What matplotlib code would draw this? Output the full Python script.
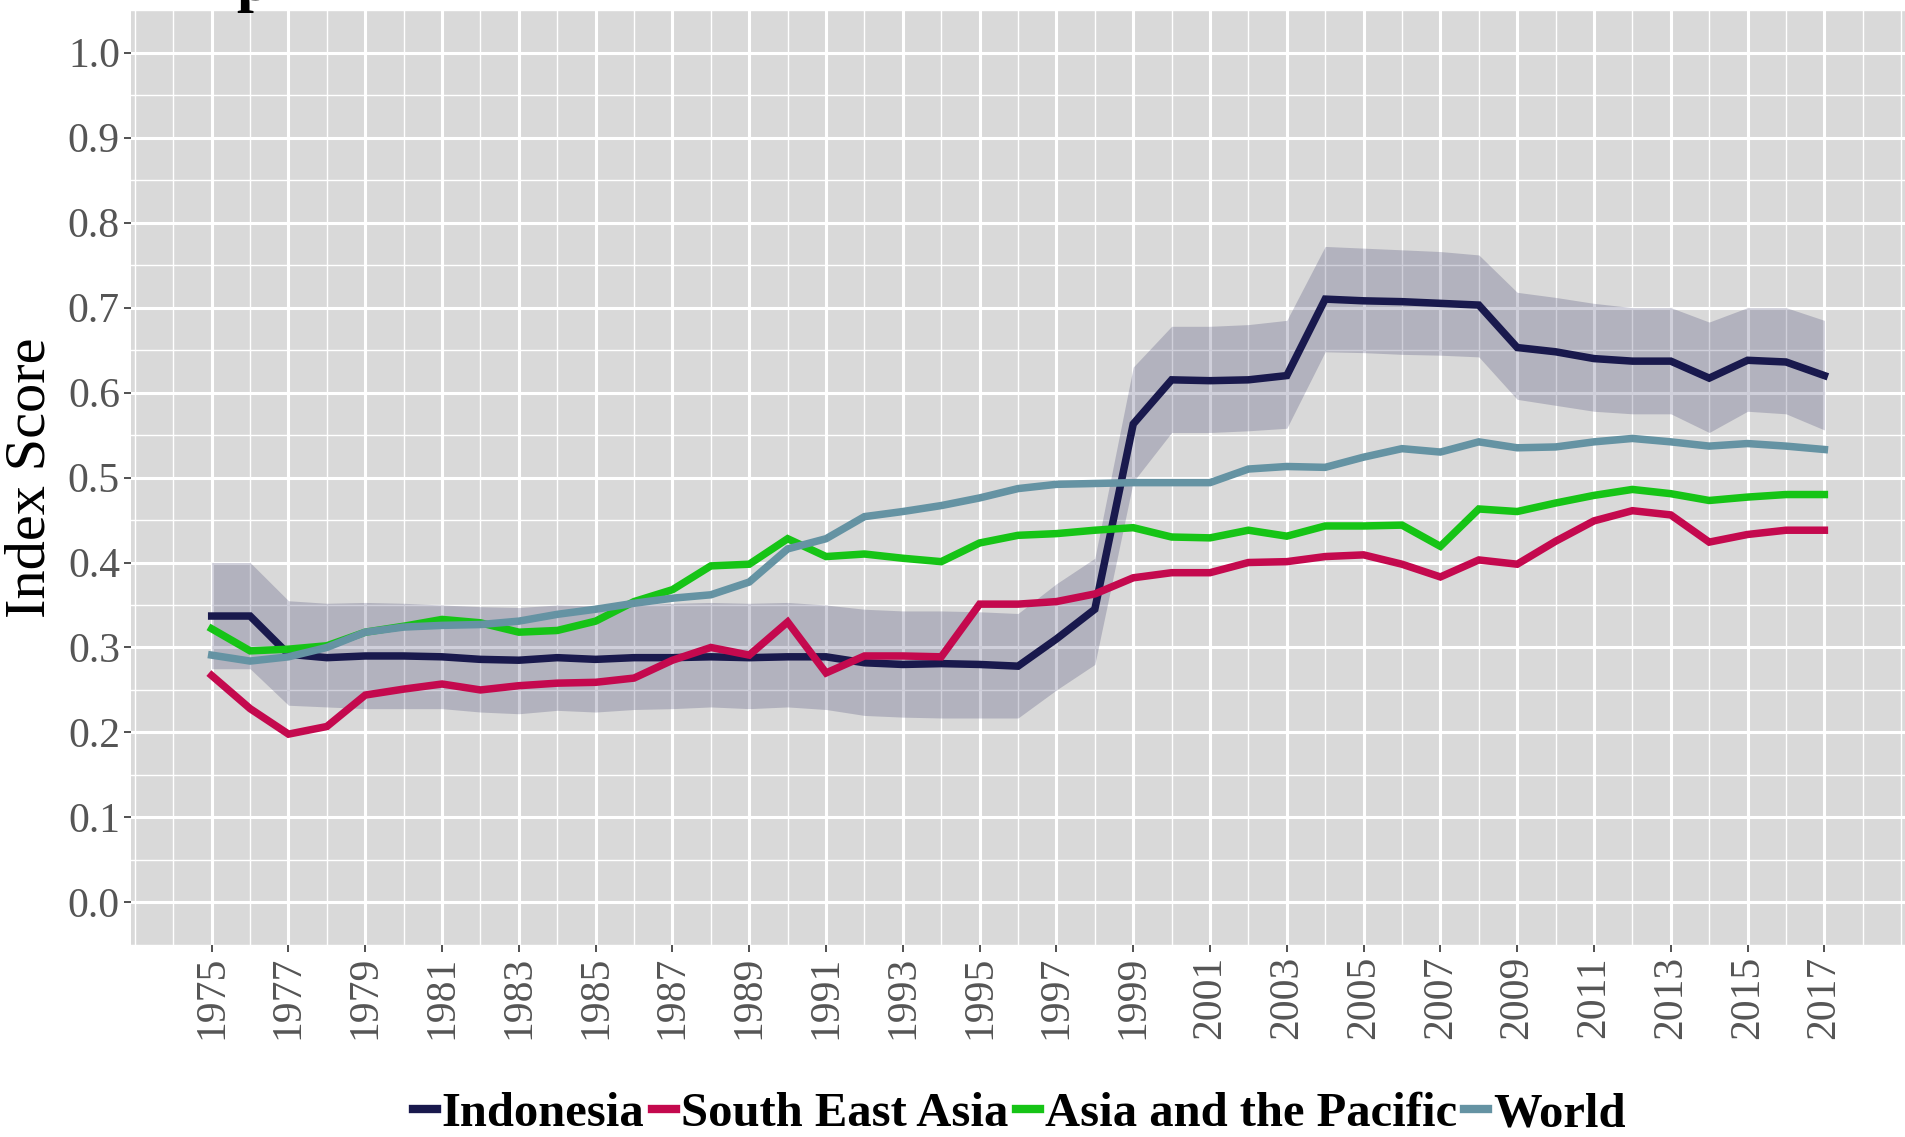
import matplotlib
matplotlib.use("Agg")
import matplotlib.pyplot as plt
from matplotlib.ticker import MultipleLocator, FixedLocator
from matplotlib.lines import Line2D

years = list(range(1975, 2018))

indonesia = [0.337, 0.337, 0.292, 0.288, 0.290, 0.290, 0.289, 0.286, 0.285, 0.288,
             0.286, 0.288, 0.288, 0.289, 0.288, 0.289, 0.289, 0.282, 0.280, 0.281,
             0.280, 0.278, 0.310, 0.345, 0.563, 0.615, 0.614, 0.615, 0.620, 0.710,
             0.708, 0.707, 0.705, 0.703, 0.653, 0.648, 0.640, 0.637, 0.637, 0.617,
             0.638, 0.636, 0.620]
indo_upper = [0.400, 0.400, 0.355, 0.352, 0.353, 0.352, 0.350, 0.348, 0.347, 0.350,
              0.349, 0.350, 0.352, 0.353, 0.352, 0.353, 0.350, 0.345, 0.343, 0.343,
              0.342, 0.340, 0.375, 0.405, 0.630, 0.678, 0.678, 0.680, 0.685, 0.772,
              0.770, 0.768, 0.766, 0.762, 0.718, 0.712, 0.705, 0.700, 0.700, 0.683,
              0.700, 0.700, 0.685]
indo_lower = [0.275, 0.275, 0.232, 0.230, 0.228, 0.228, 0.228, 0.224, 0.222, 0.226,
              0.224, 0.227, 0.228, 0.230, 0.228, 0.230, 0.227, 0.220, 0.218, 0.217,
              0.217, 0.217, 0.250, 0.280, 0.495, 0.553, 0.553, 0.555, 0.558, 0.648,
              0.647, 0.645, 0.644, 0.642, 0.592, 0.585, 0.578, 0.575, 0.575, 0.553,
              0.578, 0.575, 0.556]
south_east_asia = [0.267, 0.228, 0.198, 0.207, 0.244, 0.251, 0.257, 0.250, 0.255, 0.258,
                   0.259, 0.264, 0.285, 0.300, 0.291, 0.330, 0.270, 0.290, 0.290, 0.289,
                   0.351, 0.351, 0.354, 0.363, 0.382, 0.388, 0.388, 0.400, 0.401, 0.407,
                   0.409, 0.398, 0.383, 0.403, 0.398, 0.425, 0.449, 0.461, 0.456, 0.424,
                   0.433, 0.438, 0.438]
asia_pacific = [0.322, 0.296, 0.298, 0.302, 0.318, 0.325, 0.333, 0.329, 0.318, 0.320,
                0.331, 0.354, 0.368, 0.396, 0.398, 0.428, 0.407, 0.410, 0.405, 0.401,
                0.423, 0.432, 0.434, 0.438, 0.441, 0.430, 0.429, 0.438, 0.431, 0.443,
                0.443, 0.444, 0.419, 0.463, 0.460, 0.470, 0.479, 0.486, 0.481, 0.473,
                0.477, 0.480, 0.480]
world = [0.291, 0.284, 0.289, 0.300, 0.318, 0.324, 0.326, 0.327, 0.331, 0.339,
         0.345, 0.352, 0.358, 0.362, 0.377, 0.416, 0.428, 0.454, 0.460, 0.467,
         0.476, 0.487, 0.492, 0.493, 0.494, 0.494, 0.494, 0.510, 0.513, 0.512,
         0.524, 0.534, 0.530, 0.542, 0.535, 0.536, 0.542, 0.546, 0.542, 0.537,
         0.540, 0.537, 0.533]

series_names = ["Indonesia", "South East Asia", "Asia and the Pacific", "World"]
series_colors = ["#19194d", "#c4094e", "#16c416", "#6593a3"]
x_ticks = list(range(1975, 2018, 2))
y_ticks = [0.0, 0.1, 0.2, 0.3, 0.4, 0.5, 0.6, 0.7, 0.8, 0.9, 1.0]

serif = ["Liberation Serif", "DejaVu Serif"]

fig = plt.figure(figsize=(19.05, 11.37), dpi=100)
ax = fig.add_axes([0.0688, 0.169, 0.9312, 0.822])
ax.set_facecolor("#d9d9d9")

ax.fill_between(years, indo_lower, indo_upper, color="#2a2a5e", alpha=0.22,
                linewidth=0, zorder=2)
data = [indonesia, south_east_asia, asia_pacific, world]
for vals, c in zip(data, series_colors):
    ax.plot(years, vals, color=c, linewidth=5.4, zorder=3, solid_joinstyle="miter")

ax.set_xlim(1972.9, 2019.1)
ax.set_ylim(-0.05, 1.05)
ax.xaxis.set_major_locator(FixedLocator(x_ticks))
ax.xaxis.set_minor_locator(MultipleLocator(1))
ax.yaxis.set_major_locator(FixedLocator(y_ticks))
ax.yaxis.set_minor_locator(MultipleLocator(0.05))
ax.set_xticklabels([str(y) for y in x_ticks], rotation=90)
ax.set_yticklabels([f"{v:.1f}" for v in y_ticks])

ax.grid(which="major", color="white", linewidth=2.2, zorder=1)
ax.grid(which="minor", color="white", linewidth=1.0, zorder=1)
ax.set_axisbelow(True)
for s in ax.spines.values():
    s.set_visible(False)

ax.tick_params(which="major", length=5, width=1.2, color="#333333",
               labelcolor="#555555", labelsize=30, pad=3)
ax.tick_params(which="minor", length=0)
for lab in ax.get_xticklabels() + ax.get_yticklabels():
    lab.set_family(serif)

ax.set_ylabel("Index Score", fontsize=42, family=serif, color="black", labelpad=8)

handles = [Line2D([0], [0], color=c, linewidth=6) for c in series_colors]
leg = fig.legend(handles, series_names, loc="center", bbox_to_anchor=(0.535, 0.02),
                 ncol=4, frameon=False, handlelength=0.5, handletextpad=0.1,
                 columnspacing=0.15, prop={"family": serif, "size": 35, "weight": "bold"})

# top of the (cut-off) title
fig.text(0.124, 1.0, "p", fontsize=44, fontweight="bold", family=serif,
         va="baseline", ha="left", color="black")

fig.savefig("out.png", dpi=100)
